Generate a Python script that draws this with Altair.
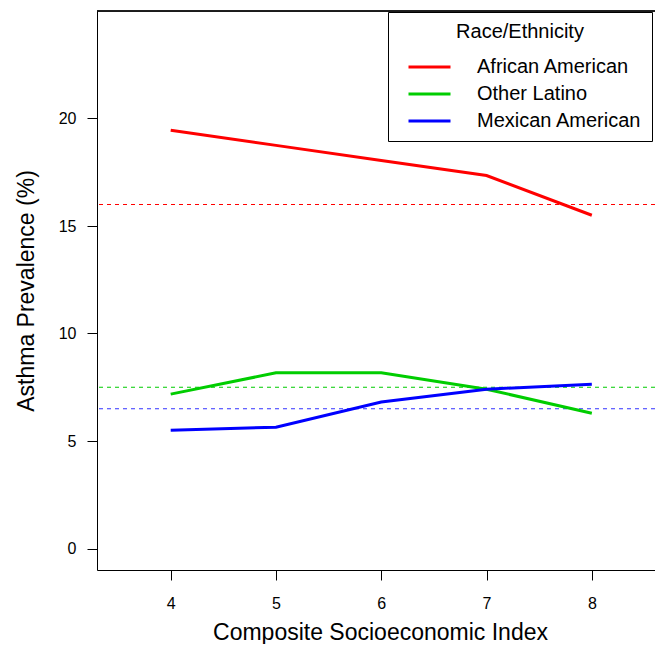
import altair as alt
import pandas as pd

# ---- data ----
ses_index = [4, 5, 6, 7, 8]
african_american = [19.45, 18.75, 18.05, 17.35, 15.5]
other_latino = [7.18, 8.17, 8.17, 7.41, 6.29]
mexican_american = [5.50, 5.64, 6.81, 7.41, 7.64]

group_names = ["African American", "Other Latino", "Mexican American"]
group_colors = ["#FF0000", "#00CD00", "#0000FF"]
group_widths = [3, 3, 4]

ref_values = [16.0, 7.5, 6.5]
ref_colors = ["#FF0000", "#00CC00", "#3333FF"]

x_ticks = [4, 5, 6, 7, 8]
y_ticks = [0, 5, 10, 15, 20]

rows = []
for name, vals in zip(group_names, [african_american, other_latino, mexican_american]):
    for xv, yv in zip(ses_index, vals):
        rows.append({"ses": xv, "prev": yv, "group": name})
df = pd.DataFrame(rows)
ref_df = pd.DataFrame({"val": ref_values, "col": ref_colors})

W, H = 558, 559
FONT = "Liberation Sans"

xscale = alt.Scale(domain=[3.3, 8.6], nice=False, zero=False)
yscale = alt.Scale(domain=[-1, 25], nice=False, zero=False)

x_axis = alt.Axis(
    values=x_ticks, grid=False, tickSize=10, labelPadding=15, labelFontSize=16,
    title="Composite Socioeconomic Index", titleFontSize=23, titleFontWeight="normal",
    titleBaseline="alphabetic", titleY=69, titleX=283, titleAlign="center",
    domainColor="black", tickColor="black", labelColor="black", titleColor="black",
    labelFont=FONT, titleFont=FONT,
)
y_axis = alt.Axis(
    values=y_ticks, grid=False, tickSize=10, labelPadding=11, labelFontSize=16,
    title="Asthma Prevalence (%)", titleFontSize=23, titleFontWeight="normal",
    titleBaseline="alphabetic", titleX=-64, titleY=H / 2, titleAlign="center", titleAngle=270,
    domainColor="black", tickColor="black", labelColor="black", titleColor="black",
    labelFont=FONT, titleFont=FONT,
)

legend = alt.Legend(
    orient="none", legendX=291, legendY=1, title="Race/Ethnicity",
    titleFontSize=20, titleFontWeight="normal", titleFont=FONT, titleColor="black",
    titleAnchor="middle", titleAlign="center", titlePadding=13,
    labelFontSize=20, labelFont=FONT, labelColor="black", labelOffset=35.5, labelLimit=300,
    labelExpr="datum.label + '\u00a0\u00a0'",
    symbolType="M-2,0L2,0", symbolSize=441, symbolStrokeWidth=3, symbolOffset=19.5,
    padding=10, rowPadding=5, strokeColor="black", fillColor="white",
)

refs = alt.Chart(ref_df).mark_rule(strokeDash=[4, 4], strokeWidth=1.2).encode(
    y=alt.Y("val:Q", scale=yscale, axis=y_axis),
    stroke=alt.Stroke("col:N", scale=None),
)

lines = alt.Chart(df).mark_line().encode(
    x=alt.X("ses:Q", scale=xscale, axis=x_axis),
    y=alt.Y("prev:Q", scale=yscale, axis=y_axis),
    color=alt.Color("group:N", scale=alt.Scale(domain=group_names, range=group_colors), legend=legend),
    strokeWidth=alt.StrokeWidth("group:N", scale=alt.Scale(domain=group_names, range=group_widths), legend=None),
)

top_border = alt.Chart(ref_df).mark_rule(color="black", strokeWidth=1).encode(
    x=alt.value(0), x2=alt.value(W), y=alt.value(0)
)

chart = alt.layer(refs, lines, top_border).properties(
    width=W, height=H,
    autosize=alt.AutoSizeParams(type="none"),
    padding={"left": 89, "top": 3, "right": 0, "bottom": 74},
).configure_view(stroke=None).configure(font=FONT)

chart.save("out.html", embed_options={"renderer": "svg", "actions": False})
